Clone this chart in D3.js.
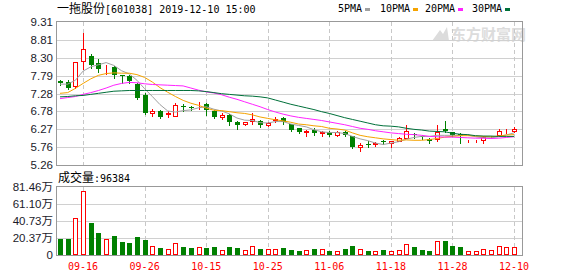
<!DOCTYPE html>
<html>
<head>
<meta charset="utf-8">
<title>一拖股份 K线</title>
<script src="https://cdn.jsdelivr.net/npm/d3@7"></script>
<style>
  body { margin: 0; background: #fff; }
  svg { display: block; }
  .grid { stroke: #d0d0d0; stroke-width: 1px; shape-rendering: crispEdges; }
  .vgrid { stroke: #c8c8c8; stroke-dasharray: 4,3; shape-rendering: crispEdges; }
  .frame { fill: none; stroke: #999; shape-rendering: crispEdges; }
  .axis-label { font-family: "Liberation Sans", "Noto Sans CJK SC", sans-serif; font-size: 11.5px; fill: #1a1a2a; }
  .date-label { font-family: "DejaVu Sans Mono", monospace; font-size: 10px; fill: #f00; }
  .mono { font-family: "DejaVu Sans Mono", monospace; font-size: 10px; fill: #000; }
  .cjk { font-family: "Noto Sans CJK SC", sans-serif; font-size: 12px; }
  .ma { fill: none; stroke-width: 1px; }
</style>
</head>
<body>
<svg width="578" height="276"></svg>
<script>
// trading days shown
var dates = ['09-10','09-11','09-12','09-16','09-17','09-18','09-19','09-20','09-23','09-24',
  '09-25','09-26','09-27','09-30','10-08','10-09','10-10','10-11','10-14','10-15',
  '10-16','10-17','10-18','10-21','10-22','10-23','10-24','10-25','10-28','10-29',
  '10-30','10-31','11-01','11-04','11-05','11-06','11-07','11-08','11-11','11-12',
  '11-13','11-14','11-15','11-18','11-19','11-20','11-21','11-22','11-25','11-26',
  '11-27','11-28','11-29','12-02','12-03','12-04','12-05','12-06','12-09','12-10']

var opens = [7.65,7.61,7.50,8.21,8.35,8.16,7.98,8.03,7.80,7.78,
  7.56,7.24,6.72,6.78,6.71,6.66,6.92,6.89,6.96,7.00,
  6.80,6.61,6.68,6.49,6.41,6.50,6.50,6.39,6.54,6.59,
  6.42,6.30,6.20,6.25,6.18,6.19,6.11,6.19,6.07,5.76,
  5.85,5.85,5.93,5.87,5.95,6.03,6.15,6.09,6.01,6.01,
  6.29,6.19,6.15,5.96,5.96,5.96,6.05,6.10,6.21,6.23]

var closes = [7.57,7.43,8.18,8.55,8.09,7.97,7.99,7.81,7.79,7.65,
  7.16,6.72,6.80,6.62,6.72,6.95,6.91,6.88,6.97,6.81,
  6.61,6.68,6.49,6.38,6.47,6.57,6.38,6.46,6.55,6.47,
  6.25,6.19,6.23,6.16,6.19,6.11,6.19,6.11,5.76,5.84,
  5.84,5.87,5.91,5.93,6.03,6.22,6.10,6.07,5.94,6.19,
  6.21,6.10,6.07,5.97,5.97,6.06,6.06,6.23,6.23,6.29]

var highs = [7.67,7.66,8.19,8.99,8.41,8.25,8.10,8.06,7.81,7.81,
  7.59,7.29,6.86,6.83,6.78,7.02,6.99,6.93,7.05,7.03,
  6.82,6.72,6.70,6.50,6.49,6.74,6.53,6.49,6.63,6.61,
  6.43,6.32,6.24,6.30,6.23,6.21,6.21,6.22,6.09,5.88,
  5.93,5.92,5.98,5.94,6.04,6.40,6.17,6.12,6.02,6.38,
  6.52,6.20,6.17,5.98,5.97,6.08,6.08,6.27,6.28,6.35]

var lows = [7.52,7.42,7.45,7.97,8.00,7.89,7.85,7.73,7.57,7.59,
  7.14,6.71,6.66,6.60,6.62,6.65,6.80,6.81,6.86,6.69,
  6.60,6.56,6.38,6.28,6.39,6.42,6.35,6.36,6.47,6.41,
  6.21,6.17,6.08,6.11,6.09,6.09,6.09,6.09,5.74,5.65,
  5.76,5.80,5.85,5.78,5.94,6.02,6.03,6.00,5.89,5.95,
  6.20,6.09,5.89,5.92,5.90,5.89,6.03,6.10,6.16,6.20]

// volume in 万
var volumes = [19.2,19.2,44.3,76.7,38.3,26.4,19.2,22.8,15.6,14.4,
  21.6,18.0,10.8,8.4,7.2,14.4,9.6,8.4,9.6,8.4,
  9.6,6.0,9.6,8.4,6.0,10.8,7.2,7.2,7.2,8.4,
  6.0,4.8,6.0,7.2,7.2,4.8,4.8,7.2,10.8,7.2,
  4.8,4.8,6.0,4.8,6.0,13.2,9.6,6.0,4.8,16.8,
  16.8,10.8,9.6,4.8,4.8,7.2,6.0,10.8,9.6,9.64]

var ma5 = [7.55,7.55,7.66,7.92,8.04,8.10,8.16,8.08,7.93,7.84,
  7.66,7.42,7.20,6.97,6.79,6.76,6.80,6.82,6.88,6.91,
  6.84,6.79,6.71,6.59,6.53,6.52,6.46,6.45,6.49,6.49,
  6.42,6.38,6.34,6.26,6.20,6.18,6.18,6.15,6.07,6.00,
  5.95,5.88,5.84,5.88,5.92,5.99,6.04,6.07,6.07,6.10,
  6.10,6.10,6.10,6.11,6.06,6.03,6.03,6.06,6.11,6.17]

var ma10 = [7.29,7.31,7.43,7.57,7.70,7.80,7.85,7.87,7.86,7.86,
  7.82,7.74,7.61,7.45,7.32,7.20,7.09,7.01,6.95,6.87,
  6.81,6.80,6.77,6.74,6.72,6.68,6.62,6.58,6.54,6.51,
  6.47,6.42,6.40,6.37,6.35,6.30,6.28,6.25,6.17,6.10,
  6.06,6.03,6.00,5.98,5.96,5.97,5.96,5.96,5.98,6.01,
  6.05,6.07,6.09,6.09,6.08,6.07,6.06,6.08,6.11,6.12]

var ma20 = [7.14,7.17,7.20,7.26,7.31,7.37,7.44,7.52,7.57,7.60,
  7.59,7.56,7.54,7.53,7.52,7.51,7.50,7.44,7.38,7.33,
  7.30,7.25,7.18,7.12,7.05,6.98,6.91,6.83,6.76,6.70,
  6.65,6.61,6.58,6.55,6.52,6.48,6.44,6.40,6.35,6.30,
  6.27,6.23,6.20,6.17,6.15,6.13,6.12,6.10,6.07,6.06,
  6.05,6.05,6.04,6.03,6.02,6.02,6.01,6.02,6.04,6.06]

var ma30 = [7.19,7.20,7.22,7.23,7.26,7.29,7.32,7.35,7.36,7.37,
  7.37,7.37,7.37,7.37,7.37,7.37,7.37,7.37,7.36,7.34,
  7.31,7.28,7.26,7.24,7.22,7.21,7.19,7.16,7.10,7.04,
  6.98,6.93,6.88,6.83,6.77,6.72,6.66,6.60,6.55,6.50,
  6.45,6.40,6.37,6.36,6.34,6.30,6.27,6.25,6.22,6.21,
  6.20,6.16,6.13,6.12,6.09,6.08,6.08,6.07,6.07,6.07]

var priceTicks = [9.31, 8.81, 8.30, 7.79, 7.28, 6.78, 6.27, 5.76, 5.26]
var volTicks = [81.46, 61.10, 40.73, 20.37, 0]
var volTickLabels = ['81.46万', '61.10万', '40.73万', '20.37万', '0']
var dateTicks = ['09-16','09-26','10-15','10-25','11-06','11-18','11-28','12-10']

var maNames = ['5PMA', '10PMA', '20PMA', '30PMA']
var maColors = ['#a0a0a0', '#f5a300', '#ff22ff', '#00703a']

var RED = '#ff0000', GREEN = '#008000'

var svg = d3.select('svg')

// scales
var x = d3.scalePoint().domain(dates).range([60, 514])
var y = d3.scaleLinear().domain([5.26, 9.31]).range([165, 22])
var yv = d3.scaleLinear().domain([0, 81.46]).range([255, 187])

var left = 56, right = 522

function px(v) { return Math.round(v) + 0.5 }

// watermark
var wm = svg.append('g').attr('fill', '#dcdcdc')
wm.append('path')
  .attr('d', 'M432,41 L440,30 L443,34 L447,27 L449,41 Z')
wm.append('text')
  .attr('x', 451).attr('y', 40)
  .style('font-family', '"Noto Sans CJK SC", sans-serif')
  .style('font-size', '15px')
  .style('font-weight', 'bold')
  .text('东方财富网')

// main grid
svg.append('g').selectAll('line')
  .data(priceTicks.slice(1, -1))
  .enter().append('line')
  .attr('class', 'grid')
  .attr('x1', left).attr('x2', right)
  .attr('y1', d => px(y(d))).attr('y2', d => px(y(d)))

svg.append('g').selectAll('line')
  .data(volTicks.slice(1, -1))
  .enter().append('line')
  .attr('class', 'grid')
  .attr('x1', left).attr('x2', right)
  .attr('y1', d => px(yv(d))).attr('y2', d => px(yv(d)))

// vertical dashed lines at date ticks
dateTicks.forEach(function(d) {
  svg.append('line').attr('class', 'vgrid')
    .attr('x1', px(x(d))).attr('x2', px(x(d)))
    .attr('y1', 22).attr('y2', 165)
  svg.append('line').attr('class', 'vgrid')
    .attr('x1', px(x(d))).attr('x2', px(x(d)))
    .attr('y1', 187).attr('y2', 255)
})

// frames
svg.append('rect').attr('class', 'frame')
  .attr('x', left + 0.5).attr('y', 21.5)
  .attr('width', right - left).attr('height', 144)
svg.append('rect').attr('class', 'frame')
  .attr('x', left + 0.5).attr('y', 186.5)
  .attr('width', right - left).attr('height', 69)

// y labels
svg.append('g').selectAll('text')
  .data(priceTicks)
  .enter().append('text')
  .attr('class', 'axis-label')
  .attr('x', 53)
  .attr('y', d => y(d) + 4)
  .attr('text-anchor', 'end')
  .text(d => d.toFixed(2))

svg.append('g').selectAll('text')
  .data(volTicks)
  .enter().append('text')
  .attr('class', 'axis-label')
  .attr('x', 53)
  .attr('y', d => yv(d) + 4)
  .attr('text-anchor', 'end')
  .text((d, i) => volTickLabels[i])

// date labels
svg.append('g').selectAll('text')
  .data(dateTicks)
  .enter().append('text')
  .attr('class', 'date-label')
  .attr('x', d => x(d))
  .attr('y', 270)
  .attr('text-anchor', 'middle')
  .text(d => d)

// candles
var candles = svg.append('g').selectAll('g')
  .data(dates)
  .enter().append('g')
  .attr('shape-rendering', 'crispEdges')

candles.each(function(d, i) {
  var g = d3.select(this)
  var cx = px(x(d))
  var up = closes[i] >= opens[i]
  var col = up ? RED : GREEN
  var top = Math.round(y(Math.max(opens[i], closes[i])))
  var bot = Math.round(y(Math.min(opens[i], closes[i])))
  g.append('line')
    .attr('x1', cx).attr('x2', cx)
    .attr('y1', Math.round(y(highs[i]))).attr('y2', Math.round(y(lows[i])) + 1)
    .attr('stroke', col)
  if (up) {
    g.append('rect')
      .attr('x', cx - 2).attr('y', top + 0.5)
      .attr('width', 4).attr('height', Math.max(0, bot - top))
      .attr('fill', '#fff').attr('stroke', col)
  } else {
    g.append('rect')
      .attr('x', cx - 2.5).attr('y', top)
      .attr('width', 5).attr('height', Math.max(1, bot - top))
      .attr('fill', col)
  }
})

// volume bars
svg.append('g').attr('shape-rendering', 'crispEdges')
  .selectAll('rect')
  .data(volumes)
  .enter().append('rect')
  .attr('x', (d, i) => closes[i] >= opens[i] ? px(x(dates[i])) - 2 : px(x(dates[i])) - 2.5)
  .attr('y', (d, i) => closes[i] >= opens[i] ? Math.round(yv(d)) + 0.5 : Math.round(yv(d)))
  .attr('width', (d, i) => closes[i] >= opens[i] ? 4 : 5)
  .attr('height', (d, i) => closes[i] >= opens[i] ? 255 - Math.round(yv(d)) - 1 : 255 - Math.round(yv(d)))
  .attr('fill', (d, i) => closes[i] >= opens[i] ? '#fff' : GREEN)
  .attr('stroke', (d, i) => closes[i] >= opens[i] ? RED : 'none')

// moving averages
var maData = [ma5, ma10, ma20, ma30]
var line = d3.line()
  .x((d, i) => x(dates[i]))
  .y(d => y(d))

svg.append('g').selectAll('path')
  .data(maData)
  .enter().append('path')
  .attr('class', 'ma')
  .attr('stroke', (d, i) => maColors[i])
  .attr('d', line)

// title
var title = svg.append('text').attr('x', 57).attr('y', 13)
title.append('tspan').attr('class', 'cjk').text('一拖股份')
title.append('tspan').attr('class', 'mono').text('[601038] 2019-12-10 15:00')

// legend
var legendX = [338, 380, 425, 472]
var legend = svg.append('g').selectAll('g')
  .data(maNames)
  .enter().append('g')
  .attr('transform', (d, i) => 'translate(' + legendX[i] + ',0)')
legend.append('text')
  .attr('class', 'mono')
  .attr('y', 12)
  .text(d => d)
legend.append('rect')
  .attr('x', (d) => d.length * 6 + 3)
  .attr('y', 8)
  .attr('width', 5).attr('height', 3)
  .attr('fill', (d, i) => maColors[i])

// volume caption
var cap = svg.append('text').attr('x', 58).attr('y', 182)
cap.append('tspan').attr('class', 'cjk').text('成交量')
cap.append('tspan').attr('class', 'mono').text(':96384')
</script>
</body>
</html>
